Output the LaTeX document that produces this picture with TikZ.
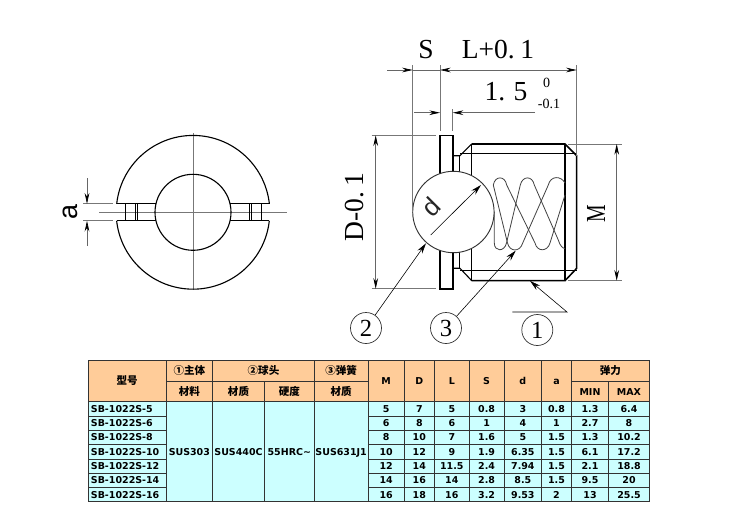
\documentclass[tikz,border=0pt]{standalone}
\usepackage{fontspec}
\usepackage{xcolor}
\usetikzlibrary{arrows.meta, positioning, calc}
\setmainfont{Liberation Serif}
\newfontfamily\labelsans{Liberation Sans}
\newfontfamily\tablefont{DejaVu Sans}
\newfontfamily\cjk{Noto Sans CJK SC}
\definecolor{HeadOrange}{HTML}{FFCC99}
\definecolor{BodyCyan}{HTML}{CCFFFF}
\definecolor{GridDark}{HTML}{333333}
\definecolor{DimGray}{HTML}{777777}
\definecolor{SpringGray}{HTML}{444444}
\newcommand{\tablecell}[6]{\draw[#2] (#3,#4) rectangle (#5,#6) node[midway, tabletext] (#1)}
\newcommand{\cjkhead}{\cjk\fontsize{9}{10}\selectfont}
\tikzset{
    outline/.style={line width=0.95pt, black},
    heavyline/.style={line width=1.3pt, black},
    thinline/.style={line width=0.65pt, DimGray},
    dimline/.style={line width=0.6pt, black!60, -{Stealth[length=3.2mm,width=1.4mm,color=black]}},
    leaderline/.style={line width=0.5pt, black, -{Stealth[length=3.2mm,width=1.7mm]}},
    dimtext/.style={font=\fontsize{23.5}{26}\selectfont, inner sep=0pt},
    smalltext/.style={font=\fontsize{12}{13}\selectfont, inner sep=0pt},
    balloon/.style={circle, draw=black!80, line width=0.6pt, minimum size=0.93cm, inner sep=0pt,
                    font=\fontsize{21}{24}\selectfont},
    headcell/.style={draw=GridDark, line width=0.8pt, fill=HeadOrange},
    bodycell/.style={draw=GridDark, line width=0.8pt, fill=BodyCyan},
    tabletext/.style={inner sep=0pt, text height=6pt, text depth=0pt,
                      font=\tablefont\bfseries\fontsize{8.1}{9}\selectfont, text=black},
}
\begin{document}
\begin{tikzpicture}[x=0.03cm, y=-0.03cm]
    \useasboundingbox (0,0) rectangle (750,530);

    % End view
    \draw[thinline] (193,133) -- (193,290);
    \draw[thinline] (99,212.3) -- (287,212.3);
    \draw[outline] (116.7,203.8) arc[start angle=186.3, end angle=353.7, radius=76.8];
    \draw[outline] (269.3,220.8) arc[start angle=6.3, end angle=173.7, radius=76.8];
    \draw[outline] (193,212.3) circle[radius=38];
    \draw[outline] (116.7,203.8) -- (155.6,203.8) (116.7,220.8) -- (155.6,220.8);
    \draw[outline] (230.4,203.8) -- (269.3,203.8) (230.4,220.8) -- (269.3,220.8);
    \foreach \xs in {125,135,137.7,249,251.7,261.7}
        \draw[line width=0.7pt] (\xs,203.8) -- (\xs,220.8);

    % Dimension a
    \draw[thinline] (83,203.8) -- (112.7,203.8) (83,220.8) -- (112.7,220.8);
    \draw[dimline] (87,178) -- (87,203.8);
    \draw[dimline] (87,246) -- (87,220.8);
    \node[dimtext, rotate=90, font=\labelsans\fontsize{23}{26}\selectfont] (dima) at (70,212.5) {a};

    % Side view: flange and body
    \draw[outline] (440,135.7) rectangle (453,289);
    \draw[outline] (453,155.7) rectangle (459.5,268.3);
    \draw[outline] (453,155.7) -- (460,155.7) -- (471.7,144) (453,268.3) -- (460,268.3) -- (471.7,280.7);
    \draw[outline] (460,153.3) -- (576.7,153.3) (460,270.7) -- (576.7,270.7);
    \draw[heavyline] (471.7,144) -- (565,144) -- (576.7,155.7) -- (576.7,268.3) -- (565,280.7) -- (471.7,280.7);
    \draw[outline] (471.7,144) -- (471.7,180) (471.7,245) -- (471.7,280.7);
    \draw[outline] (565,144) -- (565,280.7);

    % Spring
    \begin{scope}[line width=0.7pt, SpringGray]
        \draw (494.3,212) -- (494.3,243) .. controls (494.3,252) and (504.5,252) .. (506.5,243)
            -- (520.3,185) .. controls (522.5,175.5) and (532.5,175.5) .. (534.3,185)
            -- (558.3,240) .. controls (560,246) and (563,248.5) .. (565,248.5);
        \draw (493.3,185) -- (507.5,243) .. controls (509.5,252) and (520,252.5) .. (522.7,243)
            -- (548.3,185) .. controls (550.5,175.5) and (561,175.5) .. (565,183);
        \draw (493.3,185) .. controls (495,175.5) and (505,175.5) .. (506.7,185)
            -- (535,243) .. controls (537,252) and (547.5,252) .. (550,243) -- (565,195);
    \end{scope}

    % Ball
    \draw[line width=0.8pt, black!80, fill=white] (453.4,212) circle[radius=40.7];
    \draw[leaderline] (430.7,235) -- (481,185);
    \node[dimtext, rotate=45, font=\labelsans\fontsize{22}{26}\selectfont, text=black!85] (dimd) at (431.5,207) {d};

    % Top dimensions
    \draw[thinline] (412.7,65) -- (412.7,212);
    \draw[thinline] (440,65) -- (440,131);
    \draw[thinline] (452.7,109) -- (452.7,131);
    \draw[thinline] (576.7,65) -- (576.7,156);
    \draw[dimline] (387,70) -- (412.7,70);
    \draw[line width=0.6pt, black!60] (412.7,70) -- (440,70);
    \draw[dimline] (490,70) -- (440,70);
    \draw[dimline] (490,70) -- (576.7,70);
    \draw[dimline] (414,112.7) -- (440,112.7);
    \draw[dimline] (535,112.7) -- (452.7,112.7);
    \node[dimtext] (dims) at (426,50) {S};
    \node[dimtext] (diml) at (498,50) {L+0.\kern0.2em 1};
    \node[dimtext] (dimf) at (506,92) {1.\kern0.3em 5};
    \node[smalltext] (dimup) at (546.7,83) {0};
    \node[smalltext] (dimlow) at (549,104) {-0.1};

    % Dimension D
    \draw[thinline] (371.7,135.3) -- (436,135.3) (371.7,288.8) -- (436,288.8);
    \draw[dimline] (375.7,210) -- (375.7,135.3);
    \draw[dimline] (375.7,210) -- (375.7,288.8);
    \node[dimtext, rotate=90] (dimdia) at (355,207) {D-0.\kern0.2em 1};

    % Dimension M
    \draw[thinline] (568,144) -- (621.7,144) (568,280.7) -- (621.7,280.7);
    \draw[dimline] (616.7,212) -- (616.7,144);
    \draw[dimline] (616.7,212) -- (616.7,280.7);
    \node[dimtext, rotate=90] (dimm) at (596,214) {\scalebox{0.72}[1]{M}};

    % Balloons
    \node[balloon] (part2) at (366,328) {2};
    \node[balloon] (part3) at (446,328) {3};
    \node[balloon] (part1) at (537.3,330) {1};
    \coordinate (tipball) at (426,243.3);
    \coordinate (tipspring) at (515.7,250.7);
    \coordinate (tipbody) at (530,280.9);
    \coordinate (kneebody) at (567,312);
    \coordinate (endbody) at (512.3,312);
    \draw[leaderline] (part2) -- (tipball);
    \draw[leaderline] (part3) -- (tipspring);
    \draw[leaderline] (endbody) -- (kneebody) -- (tipbody);

    % Table head
    \tablecell{hxh}{headcell}{88.3}{360.7}{166}{401.7}{\cjkhead 型号};
    \tablecell{hmain}{headcell}{166}{360.7}{212.7}{381.3}{\cjkhead ①主体};
    \tablecell{hball}{headcell}{212.7}{360.7}{314.3}{381.3}{\cjkhead ②球头};
    \tablecell{hspring}{headcell}{314.3}{360.7}{368}{381.3}{\cjkhead ③弹簧};
    \tablecell{hmat}{headcell}{166}{381.3}{212.7}{401.7}{\cjkhead 材料};
    \tablecell{hbmat}{headcell}{212.7}{381.3}{264.3}{401.7}{\cjkhead 材质};
    \tablecell{hbhard}{headcell}{264.3}{381.3}{314.3}{401.7}{\cjkhead 硬度};
    \tablecell{hsmat}{headcell}{314.3}{381.3}{368}{401.7}{\cjkhead 材质};
    \tablecell{hm}{headcell}{368}{360.7}{404.3}{401.7}{M};
    \tablecell{hd}{headcell}{404.3}{360.7}{434.3}{401.7}{D};
    \tablecell{hl}{headcell}{434.3}{360.7}{469.3}{401.7}{L};
    \tablecell{hs}{headcell}{469.3}{360.7}{504}{401.7}{S};
    \tablecell{hdd}{headcell}{504}{360.7}{541.7}{401.7}{d};
    \tablecell{ha}{headcell}{541.7}{360.7}{571.3}{401.7}{a};
    \tablecell{hforce}{headcell}{571.3}{360.7}{649.3}{381.3}{\cjkhead 弹力};
    \tablecell{hmin}{headcell}{571.3}{381.3}{608.7}{401.7}{MIN};
    \tablecell{hmax}{headcell}{608.7}{381.3}{649.3}{401.7}{MAX};

    % Table body
    \tablecell{cbody}{bodycell}{166}{401.7}{212.7}{501.7}{SUS303};
    \tablecell{cball}{bodycell}{212.7}{401.7}{264.3}{501.7}{SUS440C};
    \tablecell{chard}{bodycell}{264.3}{401.7}{314.3}{501.7}{55HRC\textasciitilde};
    \tablecell{cspring}{bodycell}{314.3}{401.7}{368}{501.7}{SUS631J1};
    \foreach \rowname/\ya/\yb/\pn/\vm/\vd/\vl/\vs/\vdd/\va/\vmin/\vmax in {
        ra/401.7/416/SB-1022S-5/5/7/5/0.8/3/0.8/1.3/6.4,
        rb/416/430/SB-1022S-6/6/8/6/1/4/1/2.7/8,
        rc/430/444.3/SB-1022S-8/8/10/7/1.6/5/1.5/1.3/10.2,
        rd/444.3/459/SB-1022S-10/10/12/9/1.9/6.35/1.5/6.1/17.2,
        re/459/473.3/SB-1022S-12/12/14/11.5/2.4/7.94/1.5/2.1/18.8,
        rf/473.3/487.3/SB-1022S-14/14/16/14/2.8/8.5/1.5/9.5/20,
        rg/487.3/501.7/SB-1022S-16/16/18/16/3.2/9.53/2/13/25.5}{
        \draw[bodycell] (88.3,\ya) rectangle (166,\yb);
        \node[tabletext, anchor=west] (\rowname pn) at (90.7,{(\ya+\yb)/2}) {\pn};
        \tablecell{\rowname m}{bodycell}{368}{\ya}{404.3}{\yb}{\vm};
        \tablecell{\rowname d}{bodycell}{404.3}{\ya}{434.3}{\yb}{\vd};
        \tablecell{\rowname l}{bodycell}{434.3}{\ya}{469.3}{\yb}{\vl};
        \tablecell{\rowname s}{bodycell}{469.3}{\ya}{504}{\yb}{\vs};
        \tablecell{\rowname dd}{bodycell}{504}{\ya}{541.7}{\yb}{\vdd};
        \tablecell{\rowname a}{bodycell}{541.7}{\ya}{571.3}{\yb}{\va};
        \tablecell{\rowname min}{bodycell}{571.3}{\ya}{608.7}{\yb}{\vmin};
        \tablecell{\rowname max}{bodycell}{608.7}{\ya}{649.3}{\yb}{\vmax};
    }
\end{tikzpicture}
\end{document}
